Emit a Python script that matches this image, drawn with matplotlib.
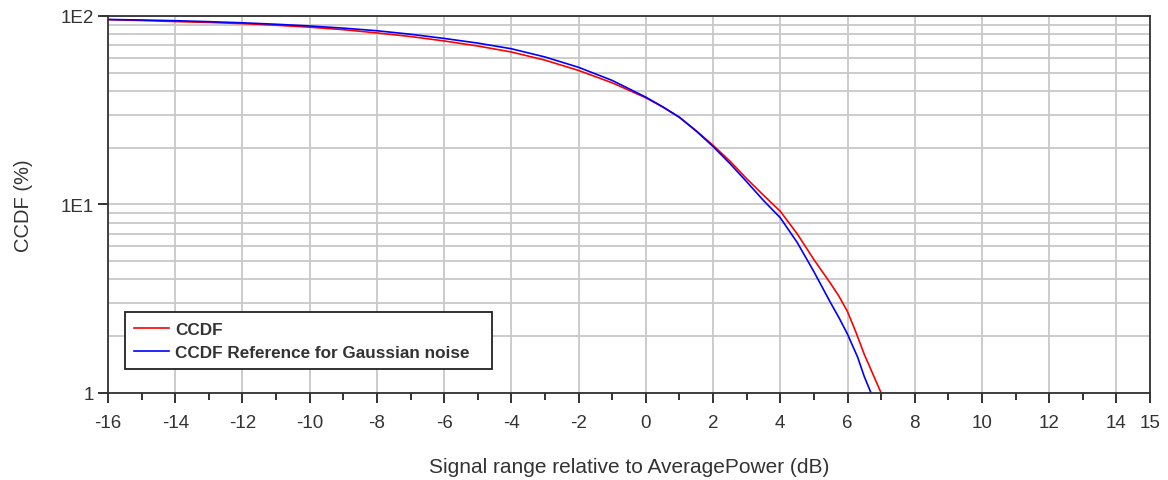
import numpy as np
import matplotlib.pyplot as plt
from matplotlib.ticker import FixedLocator, NullFormatter

plt.rcParams['font.family'] = ['Liberation Sans', 'DejaVu Sans']

# signal level relative to average power (dB) and CCDF (%)
x_ccdf = [-16, -15, -14, -13, -12, -11, -10, -9, -8, -7, -6, -5, -4, -3, -2, -1,
          0, 0.5, 1, 1.5, 2, 2.5, 3, 3.5, 4, 4.5, 5, 5.5, 5.75, 6, 6.25, 6.5, 7.0]
ccdf = [95.6, 94.6, 93.4, 92.4, 91.1, 89.3, 87.2, 84.6, 81.3, 77.8, 73.7, 69.3,
        64.4, 58.3, 51.4, 44.2, 36.8, 32.9, 29.0, 24.6, 20.6, 17.0, 13.7, 11.2,
        9.2, 7.0, 5.1, 3.8, 3.25, 2.7, 2.1, 1.6, 1.0]

x_ref = [-16, -15, -14, -13, -12, -11, -10, -9, -8, -7, -6, -5, -4, -3, -2, -1,
         0, 0.5, 1, 1.5, 2, 2.5, 3, 3.5, 4, 4.5, 5, 5.5, 5.75, 6, 6.3, 6.5, 6.7]
ref = [95.8, 95.2, 94.4, 93.3, 92.0, 90.4, 88.5, 86.2, 83.5, 80.0, 76.0, 71.8,
       67.0, 60.6, 53.4, 45.5, 37.1, 33.0, 29.0, 24.5, 20.3, 16.5, 13.2, 10.5,
       8.5, 6.3, 4.4, 3.0, 2.5, 2.05, 1.55, 1.22, 1.0]

xticks = [-16, -14, -12, -10, -8, -6, -4, -2, 0, 2, 4, 6, 8, 10, 12, 14, 15]
yticks = [1, 10, 100]
ylabels = ['1', '1E1', '1E2']

fig = plt.figure(figsize=(11.68, 4.81), dpi=100)
ax = fig.add_axes([0.0925, 0.181, 0.8921, 0.7837])

ax.plot(x_ccdf, ccdf, color='red', lw=1.2, label='CCDF')
ax.plot(x_ref, ref, color='blue', lw=1.2, label='CCDF Reference for Gaussian noise')

ax.set_yscale('log')
ax.set_xlim(-16, 15)
ax.set_ylim(1, 100)

ax.set_xticks(xticks)
ax.set_xticklabels([str(t) for t in xticks])
ax.xaxis.set_minor_locator(FixedLocator(np.arange(-15, 15, 2)))
ax.set_yticks(yticks)
ax.set_yticklabels(ylabels)
ax.yaxis.set_minor_formatter(NullFormatter())

ax.grid(True, which='major', color='#c8c8c8', lw=1.3)
ax.grid(True, which='minor', axis='y', color='#c8c8c8', lw=1.3)
ax.set_axisbelow(True)

ax.tick_params(axis='both', which='major', direction='out', length=7, width=1.3,
               labelsize=13.5, colors='#222222', labelcolor='#333333')
ax.tick_params(axis='x', which='minor', direction='out', length=5, width=1.3, color='#222222')
ax.tick_params(axis='y', which='minor', length=0)
ax.tick_params(axis='x', pad=8)
ax.tick_params(axis='y', pad=3)
for s in ax.spines.values():
    s.set_color('#333333')
    s.set_linewidth(1.3)

ax.set_xlabel('Signal range relative to AveragePower (dB)', fontsize=15, color='#333333', labelpad=19)
ax.set_ylabel('CCDF (%)', fontsize=14.5, color='#333333', labelpad=20)

leg = ax.legend(loc='lower left', bbox_to_anchor=(0.0163, 0.0637, 0.352, 0.151), mode='expand',
                fancybox=False, edgecolor='#222222', framealpha=1, handlelength=2.0,
                handletextpad=0.4, borderpad=0.55, borderaxespad=0, labelspacing=0.45,
                prop={'size': 12.3, 'weight': 'bold'})
leg.get_frame().set_linewidth(1.3)
for t in leg.get_texts():
    t.set_color('#333333')

fig.savefig('out.png', dpi=100)
